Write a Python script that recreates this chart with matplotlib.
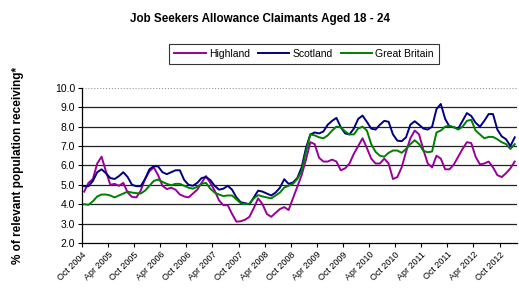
import numpy as np
import pandas as pd
import matplotlib
matplotlib.use('Agg')
import matplotlib.pyplot as plt

plt.rcParams['font.family'] = ['Liberation Sans', 'DejaVu Sans']

# monthly, Oct 2004 - Jan 2013
months = pd.date_range('2004-10-01', periods=100, freq='MS')

highland = [4.65, 5.1, 5.3, 6.1, 6.45, 5.7, 5.0, 5.05, 4.95, 5.1,
            4.6, 4.38, 4.35, 4.7, 5.3, 5.7, 5.9, 5.5, 4.95, 4.78,
            4.85, 4.75, 4.5, 4.4, 4.35, 4.55, 4.75, 5.1, 5.45, 5.1,
            4.7, 4.2, 3.95, 3.95, 3.5, 3.1, 3.12, 3.2, 3.35, 3.8,
            4.3, 4.0, 3.5, 3.35, 3.55, 3.75, 3.85, 3.7, 4.3, 4.9,
            5.5, 6.3, 7.2, 7.1, 6.4, 6.2, 6.2, 6.3, 6.2, 5.75,
            5.85, 6.1, 6.6, 7.0, 7.4, 6.9, 6.35, 6.1, 6.1, 6.35,
            6.1, 5.3, 5.4, 5.9, 6.7, 7.4, 7.8, 7.6, 6.8, 6.1,
            5.9, 6.5, 6.35, 5.8, 5.8, 6.05, 6.45, 6.85, 7.2, 7.15,
            6.45, 6.05, 6.1, 6.2, 5.9, 5.5, 5.4, 5.6, 5.85, 6.2]

scotland = [4.93, 4.93, 5.2, 5.65, 5.8, 5.6, 5.35, 5.3, 5.45, 5.65,
            5.4, 5.0, 4.93, 4.93, 5.3, 5.8, 5.96, 5.95, 5.65, 5.55,
            5.65, 5.75, 5.75, 5.25, 5.0, 4.95, 5.1, 5.35, 5.4, 5.25,
            4.95, 4.75, 4.8, 4.95, 4.75, 4.35, 4.1, 4.05, 4.0, 4.35,
            4.7, 4.65, 4.55, 4.45, 4.6, 4.85, 5.29, 5.05, 5.12, 5.35,
            5.9, 6.9, 7.6, 7.7, 7.65, 7.75, 8.1, 8.3, 8.45, 7.97,
            7.65, 7.6, 7.9, 8.4, 8.57, 8.25, 7.9, 7.85, 8.1, 8.3,
            8.25, 7.6, 7.28, 7.25, 7.45, 8.1, 8.28, 8.1, 7.9, 7.85,
            8.0, 8.9, 9.17, 8.4, 8.0, 7.97, 7.9, 8.3, 8.7, 8.55,
            8.2, 8.0, 8.3, 8.65, 8.65, 7.85, 7.5, 7.35, 7.0, 7.45]

great_britain = [4.0, 3.97, 4.15, 4.4, 4.5, 4.5, 4.45, 4.35, 4.45, 4.55,
                 4.65, 4.6, 4.57, 4.55, 4.7, 4.95, 5.2, 5.27, 5.15, 5.05,
                 4.98, 5.05, 5.05, 4.95, 4.85, 4.8, 4.9, 5.05, 5.1, 4.8,
                 4.6, 4.5, 4.42, 4.45, 4.45, 4.25, 4.05, 4.0, 4.03, 4.3,
                 4.47, 4.4, 4.35, 4.3, 4.45, 4.6, 4.86, 4.95, 5.05, 5.3,
                 5.7, 6.7, 7.6, 7.55, 7.45, 7.4, 7.55, 7.8, 8.0, 7.97,
                 7.75, 7.6, 7.6, 7.9, 8.0, 7.8, 7.1, 6.7, 6.5, 6.45,
                 6.65, 6.77, 6.77, 6.65, 6.85, 7.1, 7.3, 7.1, 6.75, 6.68,
                 6.72, 7.7, 7.8, 8.0, 8.05, 7.97, 7.85, 8.0, 8.3, 8.35,
                 7.8, 7.6, 7.4, 7.47, 7.47, 7.35, 7.2, 7.1, 6.85, 7.1]

tick_idx = list(range(0, 100, 6))
tick_labels = [months[i].strftime('%b %Y') for i in tick_idx]

fig = plt.figure(figsize=(5.19, 2.91), dpi=100)
ax = fig.add_axes([0.158, 0.165, 0.838, 0.533])

x = np.arange(len(months))
ax.plot(x, highland, color='#990099', lw=1.4, label='Highland')
ax.plot(x, scotland, color='#000080', lw=1.4, label='Scotland')
ax.plot(x, great_britain, color='#008000', lw=1.4, label='Great Britain')

ax.set_xlim(-0.5, 99.5)
ax.set_ylim(2, 10)
ax.set_yticks(np.arange(2, 10.1, 1))
ax.set_yticklabels([f'{v:.1f}' for v in np.arange(2, 10.1, 1)], fontsize=7.5)
for v in range(3, 10):
    ax.axhline(v, color='#222222', lw=0.9, zorder=0)
ax.axhline(10, color='#999999', lw=0.8, ls=':', zorder=0)

ax.set_xticks([i - 0.5 for i in tick_idx])
ax.set_xticklabels(tick_labels, rotation=45, ha='right', rotation_mode='anchor', fontsize=6.5)
ax.tick_params(axis='x', direction='out', length=3, width=0.8, pad=2)
ax.tick_params(axis='y', direction='out', length=3, width=0.8, pad=2)

for s in ['top', 'right']:
    ax.spines[s].set_visible(False)
ax.spines['left'].set_linewidth(0.9)
ax.spines['bottom'].set_linewidth(0.9)

ax.set_ylabel('% of relevant population receiving*', fontsize=8.5, fontweight='bold', labelpad=22)
fig.suptitle('Job Seekers Allowance Claimants Aged 18 - 24', fontsize=8.4, fontweight='bold', x=0.5, y=0.955)

leg = fig.legend(loc='center', bbox_to_anchor=(0.586, 0.815), ncol=3, fontsize=7.5,
                 frameon=True, fancybox=False, edgecolor='black', handlelength=3,
                 columnspacing=0.8, handletextpad=0.3, borderpad=0.5)
leg.get_frame().set_linewidth(0.8)

fig.savefig('out.png', dpi=100)
